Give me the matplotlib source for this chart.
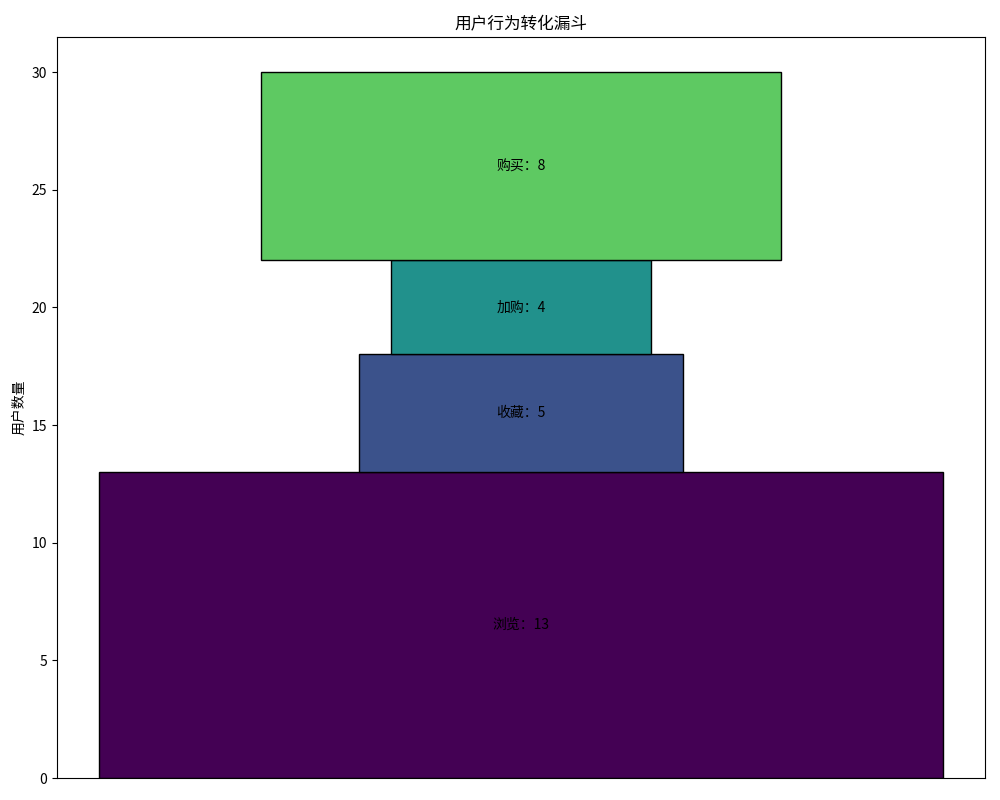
import matplotlib
matplotlib.use("Agg")
import matplotlib.pyplot as plt
import numpy as np

plt.rcParams['font.family'] = ['Noto Sans CJK SC', 'DejaVu Sans']
plt.rcParams['axes.unicode_minus'] = False

stages = ['浏览', '收藏', '加购', '购买']
counts = [13, 5, 4, 8]

colors = plt.cm.viridis(np.arange(len(stages)) / len(stages))
bottoms = np.concatenate([[0], np.cumsum(counts)[:-1]])

fig, ax = plt.subplots(figsize=(10, 8), dpi=100)
for i, (s, c) in enumerate(zip(stages, counts)):
    ax.bar(0, c, width=c, bottom=bottoms[i], color=colors[i], edgecolor='black')
    ax.text(0, bottoms[i] + c / 2, f'{s}：{c}', ha='center', va='center', color='black', fontsize=10)

ax.set_xticks([])
ax.set_ylabel('用户数量')
ax.set_title('用户行为转化漏斗')
fig.subplots_adjust(left=0.057, right=0.985, top=0.954, bottom=0.0275)
fig.savefig('out.png')
